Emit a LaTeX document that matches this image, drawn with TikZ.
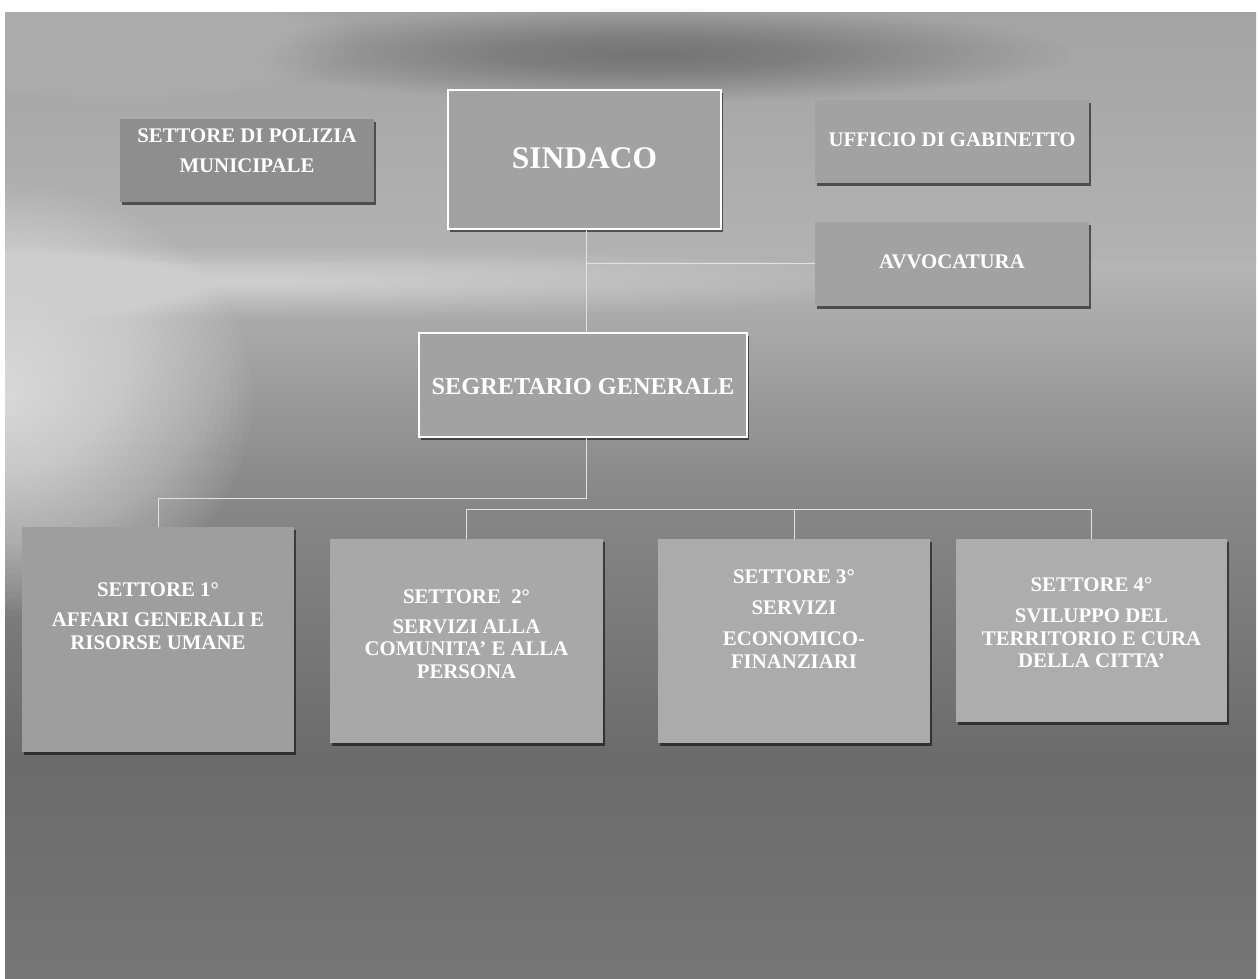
\documentclass[tikz,border=0pt]{standalone}
\usepackage{fontspec}
\setmainfont{Liberation Serif}
\usetikzlibrary{shadows}
\definecolor{boxfill}{HTML}{A2A2A2}
\definecolor{boxdark}{HTML}{8E8E8E}
\definecolor{linkgray}{HTML}{E2E2E2}
\begin{document}
\begin{tikzpicture}[x=1pt,y=-1pt,
  box/.style args={#1 by #2}{rectangle, fill=boxfill, minimum width=#1pt, minimum height=#2pt, inner sep=0pt,
    drop shadow={shadow xshift=1.5pt, shadow yshift=-2.5pt, fill=black, opacity=0.55}},
  framed/.style={draw=white, line width=1.6pt},
  txt/.style={text=white, font=\bfseries\fontsize{20.8}{22.5}\selectfont, align=center, inner sep=0pt},
  link/.style={draw=linkgray, line width=1pt}]
\useasboundingbox (0,0) rectangle (1259,978);
\fill[white] (0,0) rectangle (1259,978);
% background
\shade[top color=black!36, bottom color=black!30] (5,12) rectangle (1256,262);
\shade[top color=black!29, bottom color=black!46] (5,262) rectangle (1256,480);
\shade[top color=black!46, bottom color=black!58] (5,480) rectangle (1256,760);
\shade[top color=black!58, bottom color=black!54] (5,760) rectangle (1256,978);
% clouds and glare
\foreach \r in {1,...,30} \fill[black,opacity=0.006] (650,55) ellipse ({14*\r} and {1.6*\r});
\foreach \r in {1,...,30} \fill[white,opacity=0.012] (120,40) ellipse ({8*\r} and {2*\r});
\foreach \r in {1,...,36} \fill[white,opacity=0.034] (0,400) ellipse ({7*\r} and {6*\r});
\foreach \r in {1,...,30} \fill[white,opacity=0.018] (250,283) ellipse ({22*\r} and {1.2*\r});
% nodes
\node[box=254 by 83, fill=boxdark] (pol) at (247,160.5) {};
\node[box=273 by 139, framed] (sind) at (584.5,159.5) {};
\node[box=274 by 83] (uff) at (952,141.5) {};
\node[box=274 by 84] (avv) at (952,264) {};
\node[box=328 by 104, framed] (seg) at (583,385) {};
\node[box=272 by 225, fill=black!38] (s1) at (158,639.5) {};
\node[box=273 by 204, fill=black!34] (s2) at (466.5,641) {};
\node[box=272 by 204, fill=black!33] (s3) at (794,641) {};
\node[box=271 by 183, fill=black!32] (s4) at (1091.5,630.5) {};
% texts
\node[txt] (tpol) at (247,151) {SETTORE DI POLIZIA\\[7.5pt]MUNICIPALE};
\node[txt, font=\bfseries\fontsize{31.5}{34}\selectfont] (tsind) at (584.5,158) {SINDACO};
\node[txt] (tuff) at (952,140) {UFFICIO DI GABINETTO};
\node[txt] (tavv) at (952,262) {AVVOCATURA};
\node[txt, font=\bfseries\fontsize{24.3}{26}\selectfont] (tseg) at (583,387) {SEGRETARIO GENERALE};
\node[txt] (ts1) at (158,616) {SETTORE 1°\\[7.5pt]AFFARI GENERALI E\\RISORSE UMANE};
\node[txt] (ts2) at (466.5,634) {SETTORE \ 2°\\[7.5pt]SERVIZI ALLA\\COMUNITA' E ALLA\\PERSONA};
\node[txt] (ts3) at (794,619) {SETTORE 3°\\[8.5pt]SERVIZI\\[8.5pt]ECONOMICO-\\FINANZIARI};
\node[txt] (ts4) at (1091.5,623) {SETTORE 4°\\[8.5pt]SVILUPPO DEL\\TERRITORIO E CURA\\DELLA CITTA'};
% connectors
\coordinate (j1) at (586,263);
\coordinate (j2) at (586,498);
\coordinate (bus) at (467,509);
\draw[link] (j1 |- sind.south) -- (j1 |- seg.north);
\draw[link] (j1) -- (j1 -| avv.west);
\draw[link] (j2 |- seg.south) -- (j2) -| (s1.north);
\draw[link] (s2.north) -- (s2.north |- bus) -- (s4.north |- bus) -- (s4.north);
\draw[link] (s3.north |- bus) -- (s3.north);
\end{tikzpicture}
\end{document}
